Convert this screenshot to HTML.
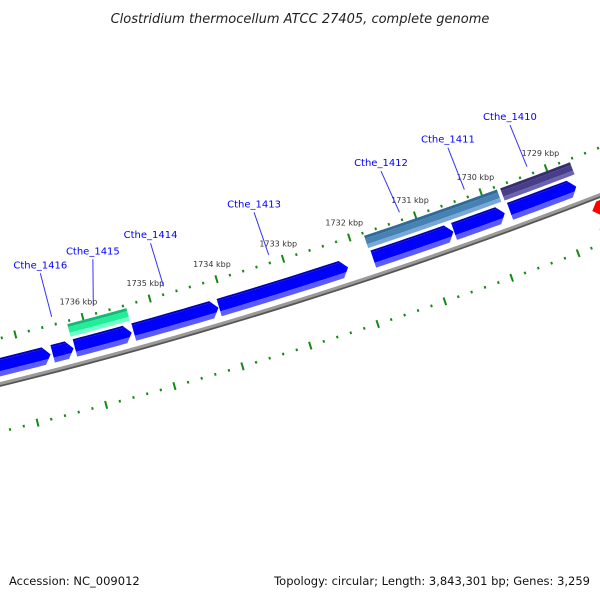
<!DOCTYPE html>
<html><head><meta charset="utf-8">
<style>
html,body{margin:0;padding:0;background:#fff;}
svg{display:block;font-family:"DejaVu Sans","Liberation Sans",sans-serif;}
</style></head>
<body>
<svg id="map" width="600" height="600" viewBox="0 0 600 600">
<rect x="0" y="0" width="600" height="600" fill="#fff"/>
<text x="300" y="23" text-anchor="middle" font-size="13" font-style="italic" fill="#222">Clostridium thermocellum ATCC 27405, complete genome</text>
<text x="9" y="585" font-size="11.5" fill="#111">Accession: NC_009012</text>
<text x="590" y="585" text-anchor="end" font-size="11.5" fill="#111">Topology: circular; Length: 3,843,301 bp; Genes: 3,259</text>
<g id="layer"></g>
</svg>
<script>
// reverse-strand genes (kbp, left=start larger, right=end smaller)
const blueStart = [1738.0, 1736.55, 1736.22, 1735.35, 1734.08, 1731.77, 1730.55, 1729.70];
const blueEnd   = [1736.58, 1736.24, 1735.38, 1734.09, 1732.15, 1730.56, 1729.78, 1728.69];
// highlighted genes
const hlStart = [1736.24, 1731.79, 1729.72];
const hlEnd   = [1735.36, 1729.77, 1728.65];
const hlColor = ["#22ee99", "#4682b4", "#483d8b"];
const hlTop   = ["#14b878", "#2f6a9a", "#372c70"];
const hlBot   = ["#70ffc8", "#78a8d4", "#6c63ad"];
// forward strand genes
const fwdStart = [1728.6, 1728.6];
const fwdEnd   = [1726.5, 1726.5];
const fwdColor = ["#ff0000", "#33cc33"];
// gene labels
const labelNames = ["Cthe_1416","Cthe_1415","Cthe_1414","Cthe_1413","Cthe_1412","Cthe_1411","Cthe_1410"];
const labelAnchorKbp = [1736.43, 1735.81, 1734.76, 1733.18, 1731.2, 1730.21, 1729.25];
const labelTopKbp    = [1736.43, 1735.64, 1734.77, 1733.2, 1731.26, 1730.23, 1729.27];
// ticks
const tickLabels = [1736, 1735, 1734, 1733, 1732, 1731, 1730, 1729];
const tickMin = 1727.0, tickMax = 1738.0, tickStep = 0.2;

const CX = -1182, CY = -4416, R0 = 4943, T0 = 1.3097, K = 0.0142;
const NS = "http://www.w3.org/2000/svg";
const layer = document.getElementById('layer');
function P(kbp, r){ const t = T0 + (kbp - 1736) * K; return [CX + r*Math.cos(t), CY + r*Math.sin(t)]; }
function el(tag, attrs){ const e = document.createElementNS(NS, tag); for (const k in attrs) e.setAttribute(k, attrs[k]); layer.appendChild(e); return e; }
function arcPts(a, b, r, n){ const p=[]; for(let i=0;i<=n;i++){ p.push(P(a+(b-a)*i/n, r)); } return p; }
function ptsStr(p){ return p.map(q=>q[0].toFixed(2)+','+q[1].toFixed(2)).join(' '); }
// band polygon between radii r1<r2 from a to b, with arrowhead of length h at b (dir sign) within gene radii [gt,gb]
function band(a, b, r1, r2, gt, gb, h){
  const mid=(gt+gb)/2, half=(gb-gt)/2, s = b<a ? 1 : -1;
  const edge = r => b + s*h*Math.abs(r-mid)/half;
  let p = arcPts(a, edge(r1), r1, 12);
  const rs=[r1]; if(r1<mid && r2>mid) rs.push(mid); rs.push(r2);
  rs.slice(1).forEach(r=>p.push(P(edge(r), r)));
  p = p.concat(arcPts(edge(r2), a, r2, 12).slice(1));
  return ptsStr(p);
}
// backbone
let bb = el('polyline',{points:ptsStr(arcPts(1739,1725,R0+2,40)),fill:'none',stroke:'#555',"stroke-width":2.5});
 
bb = el('polyline',{points:ptsStr(arcPts(1739,1725,R0,40)),fill:'none',stroke:'#9a9a9a',"stroke-width":3});
 
// ticks
const nT = Math.round((tickMax - tickMin)/tickStep);
for (let i=0;i<=nT;i++){
  const k = tickMin + i*tickStep;
  const major = Math.abs(k - Math.round(k)) < 1e-6;
  [[R0-44],[R0+47]].forEach(([rc],j)=>{
    const len = major ? 4 : 1.3;
    const p1=P(k,rc-len), p2=P(k,rc+len);
    const t = el('line',{x1:p1[0],y1:p1[1],x2:p2[0],y2:p2[1],stroke:'#138a13',"stroke-width":2});
    
    
  });
}
tickLabels.forEach(k=>{
  const p=P(k,R0-60);
  const t=el('text',{x:p[0],y:p[1]+3,"text-anchor":"middle","font-size":8,fill:"#333"});
  t.textContent = k + ' kbp';
  
  
});
// reverse blue genes
const gt=R0-25, gb=R0-7;
blueStart.forEach((a,i)=>{
  const b=blueEnd[i], h=0.1;
  const g=el('g',{});
   
  [[gt,gt+2,'#0000b8'],[gt+2,gb-5,'#0000ff'],[gb-5,gb,'#5a5aff']].forEach(([r1,r2,c])=>{
    const pg=document.createElementNS(NS,'polygon'); pg.setAttribute('points',band(a,b,r1,r2,gt,gb,h)); pg.setAttribute('fill',c); g.appendChild(pg);
  });
});
// highlighted genes
const ht=R0-41, hb=R0-28;
hlStart.forEach((a,i)=>{
  const b=hlEnd[i];
  const g=el('g',{});
   
  [[ht,ht+3,hlTop[i]],[ht+3,hb-4,hlColor[i]],[hb-4,hb,hlBot[i]]].forEach(([r1,r2,c])=>{
    const pg=document.createElementNS(NS,'polygon'); pg.setAttribute('points',band(a,b,r1,r2,ht,hb,0)); pg.setAttribute('fill',c); g.appendChild(pg);
  });
});
// forward genes
fwdStart.forEach((a,i)=>{
  const t0 = R0+5+i*20, t1=t0+15;
  const g=el('g',{});
   
  const pg=document.createElementNS(NS,'polygon'); pg.setAttribute('points',band(fwdEnd[i],a,t0,t1,t0,t1,0.1)); pg.setAttribute('fill',fwdColor[i]); g.appendChild(pg);
});
// labels
labelNames.forEach((n,i)=>{
  const p1=P(labelAnchorKbp[i],R0-52), p2=P(labelTopKbp[i],R0-97);
  const l=el('line',{x1:p1[0],y1:p1[1],x2:p2[0],y2:p2[1],stroke:'#3333ff',"stroke-width":1});
   
  const t=el('text',{x:p2[0],y:p2[1]-5,"text-anchor":"middle","font-size":10,fill:"#0000ff"});
  t.textContent=n;
   
});
</script>
</body></html>
